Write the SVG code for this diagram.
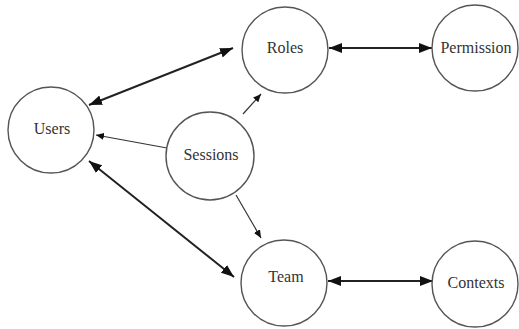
<svg xmlns="http://www.w3.org/2000/svg" width="519" height="329" viewBox="0 0 519 329">
<style>
.node circle{fill:#fff;stroke:#555;stroke-width:1.4}
.node text{font-family:"Liberation Serif","Times New Roman",serif;font-size:16px;fill:#333;text-anchor:middle;dominant-baseline:central}
.thick{stroke:#222;stroke-width:2;fill:none}
.thin{stroke:#333;stroke-width:1.2;fill:none}
</style>
<defs>
<marker id="big" markerUnits="userSpaceOnUse" markerWidth="14" markerHeight="10" refX="13" refY="5" orient="auto-start-reverse">
<path d="M0,0 L13,5 L0,10 Z" fill="#111"/>
</marker>
<marker id="small" markerUnits="userSpaceOnUse" markerWidth="9" markerHeight="7" refX="8" refY="3.5" orient="auto">
<path d="M0,0 L8,3.5 L0,7 Z" fill="#111"/>
</marker>
</defs>
<g id="connectors">
<line class="thick" x1="89" y1="105" x2="233" y2="48" marker-start="url(#big)" marker-end="url(#big)"/>
<line class="thick" x1="89" y1="161" x2="234" y2="277" marker-start="url(#big)" marker-end="url(#big)"/>
<line class="thick" x1="329" y1="48" x2="432" y2="48" marker-start="url(#big)" marker-end="url(#big)"/>
<line class="thick" x1="328" y1="281" x2="433" y2="281" marker-start="url(#big)" marker-end="url(#big)"/>
<line class="thin" x1="167" y1="148" x2="96" y2="135" marker-end="url(#small)"/>
<line class="thin" x1="243" y1="114" x2="261" y2="94" marker-end="url(#small)"/>
<line class="thin" x1="236" y1="195" x2="261" y2="238" marker-end="url(#small)"/>
</g>
<g id="users" class="node"><circle cx="51" cy="130" r="43"/><text x="52" y="128">Users</text></g>
<g id="roles" class="node"><circle cx="285" cy="50" r="43"/><text x="285" y="47">Roles</text></g>
<g id="permission" class="node"><circle cx="475" cy="48" r="43"/><text x="476" y="47">Permission</text></g>
<g id="sessions" class="node"><circle cx="210" cy="156" r="44"/><text x="211" y="154">Sessions</text></g>
<g id="team" class="node"><circle cx="284" cy="283" r="43"/><text x="286" y="276">Team</text></g>
<g id="contexts" class="node"><circle cx="475" cy="284" r="43"/><text x="476" y="282">Contexts</text></g>
</svg>
